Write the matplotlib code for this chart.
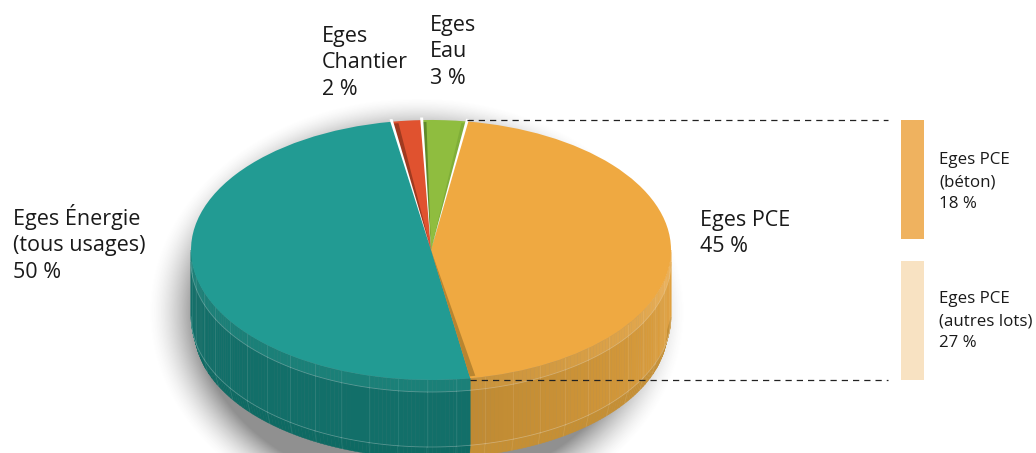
import numpy as np
import matplotlib
matplotlib.use("Agg")
import matplotlib.pyplot as plt
from matplotlib.patches import Wedge, Rectangle, Polygon
from matplotlib.colors import to_rgb

plt.rcParams['font.family'] = ['Open Sans', 'DejaVu Sans']

# data (clockwise from the top)
categories = ["Eges PCE", "Eges Énergie", "Eges Chantier", "Eges Eau"]
shares = [45, 50, 2, 3]
breakdown_labels = ["Eges PCE\n(béton)\n18 %", "Eges PCE\n(autres lots)\n27 %"]
breakdown_values = [18, 27]

top_colors = ["#EFA941", "#229B93", "#E0522F", "#8FBD3F"]
bevel_colors = ["#EFB257", "#1B8078", "#A03A20", "#5F8A2A"]
side_colors = ["#E2A23F", "#126F69", "#A03A20", "#5F8A2A"]
side_dark = ["#BF8A33", "#10726B", "#A03A20", "#5F8A2A"]
bottom_colors = ["#C58F35", "#0E6A63", "#A03A20", "#5F8A2A"]

W, H = 1036, 453
CX, CY, RX, RY = 431, 250, 240, 130
START = 81.4   # matplotlib angle of the first slice start

fig = plt.figure(figsize=(W/100, H/100), dpi=100)
ax = fig.add_axes([0, 0, 1, 1])

def lims():
    ax.set_xlim(-CX/RX, (W-CX)/RX)
    ax.set_ylim((CY-H)/RY, CY/RY)
    ax.set_aspect('auto')
    ax.axis('off')

# slice boundaries from the data
angles = START - np.cumsum([0] + shares) * 3.6

# soft shadow
px = np.arange(W) + .5
py = np.arange(H) + .5
xx, yy = np.meshgrid(px, py)
dist = np.sqrt(((xx-(CX-14))/RX)**2 + ((yy-(CY+62))/(RY+62))**2)
alpha = np.clip((1.12-dist)/0.20, 0, 1)**1.6 * 0.62
img = np.zeros((H, W, 4)); img[..., :3] = 0.3; img[..., 3] = alpha
ax.imshow(img, extent=(-CX/RX, (W-CX)/RX, (CY-H)/RY, CY/RY), origin='upper',
          aspect='auto', zorder=0, interpolation='bilinear')

def band(t0, t1, off0, off1, s0, s1, c, z, lw=0.3):
    t = np.radians(np.linspace(t0, t1, max(3, int(abs(t1-t0)*2)+2)))
    xa, ya = s0*np.cos(t), s0*np.sin(t) - off0/RY
    xb, yb = s1*np.cos(t), s1*np.sin(t) - off1/RY
    ax.add_patch(Polygon(np.r_[np.c_[xa, ya], np.c_[xb, yb][::-1]], closed=True,
                         fc=c, ec=c, lw=lw, zorder=z))

# side of the disc: only front half of each slice is visible
OFF1, OFF2, OFF3 = 12, 67, 80
for i in range(4):
    a1, a0 = angles[i], angles[i+1]
    if a1 > -180 and a0 < 0:
        lo, hi = max(a0, -180), min(a1, 0)
        n = max(2, int(hi-lo))
        edges = np.linspace(lo, hi, n+1)
        for k in range(n):
            f = (0.5*(edges[k]+edges[k+1]) - lo)/(hi-lo)
            mix = 1 - f if i == 0 else 0.0
            sc = np.array(to_rgb(side_colors[i]))*(1-mix) + np.array(to_rgb(side_dark[i]))*mix
            bc = np.array(to_rgb(bevel_colors[i]))*(1-mix*0.8) + np.array(to_rgb(side_dark[i]))*mix*0.8
            band(edges[k], edges[k+1], 0, OFF1, 1, 1, tuple(bc), 2)
            band(edges[k], edges[k+1], OFF1, OFF2, 1, 1, tuple(sc), 2)
            band(edges[k], edges[k+1], OFF2, OFF3, 1, 0.985, bottom_colors[i], 2)
        # thin facet and contour lines
        for a in np.arange(np.ceil(lo/7)*7, hi, 7.0):
            r = np.radians(a)
            for o0, o1, s in ((0, OFF1, 1), (OFF1, OFF2, 1), (OFF2, OFF3, .985)):
                ax.plot([np.cos(r), s*np.cos(r)], [np.sin(r)-o0/RY, s*np.sin(r)-o1/RY],
                        color='white', alpha=.10, lw=.6, zorder=3)
        t = np.radians(np.linspace(lo, hi, 100))
        for o in (OFF1, OFF2):
            ax.plot(np.cos(t), np.sin(t)-o/RY, color='white', alpha=.28, lw=.6, zorder=3)

# top face through the pie function
wedges, _ = ax.pie(shares, colors=top_colors, startangle=START, counterclock=False,
                   radius=1, center=(0, 0), wedgeprops=dict(linewidth=0))
for w in wedges:
    w.set_zorder(5)
lims()

# cut faces of the slices
cuts = [(angles[1], angles[1]+1.4, "#B98530"),
        (angles[2]-1.5, angles[2], "#A03A20"),
        (angles[3]-1.1, angles[3], "#5F8A2A"),
        (angles[4], angles[4]+1.2, "#7FAE38")]
for t0, t1, c in cuts:
    ax.add_patch(Wedge((0, 0), 0.985, t0, t1, fc=c, ec='none', zorder=6))

# narrow gaps between exploded slices, widening to the rim
for a in angles[2:5]:
    ax.add_patch(Wedge((0, 0), 1.02, a-0.35, a+0.35, fc='white', ec='none', zorder=6.5))

# dashed leader lines, from the ends of the PCE slice
lx = (888-CX)/RX
for a in (angles[0], angles[1]):
    r = np.radians(a)
    yv = np.sin(r) + np.sign(np.sin(r))*0.012
    ax.plot([np.cos(r), lx], [yv, yv], color='#222222', lw=.9, dashes=(5, 4), zorder=7)

def X(p): return (p-CX)/RX
def Y(p): return (CY-p)/RY
gap = 22
span = 260 - gap
ytop = 120
colors_break = ["#EFB25F", "#F8E2C2"]
for v, c, offs in zip(breakdown_values, colors_break, (0, 1)):
    h = span/2
    t = ytop + offs*(h+gap)
    ax.add_patch(Rectangle((X(901), Y(t+h)), 23/RX, h/RY, fc=c, ec='none', zorder=4))

def label(x, y, s, size=15.5, ls=1.33):
    ax.text(X(x), Y(y), s, fontsize=size, color='#1a1a1a', va='top', ha='left',
            linespacing=ls, zorder=8)

label(700, 210, f"{categories[0]}\n{shares[0]} %")
label(13, 204, f"Eges Énergie\n(tous usages)\n{shares[1]} %")
label(322, 26, f"Eges\nChantier\n{shares[2]} %")
label(430, 15, f"Eges\nEau\n{shares[3]} %")
label(939, 152, breakdown_labels[0], 12.2, 1.52)
label(939, 291, breakdown_labels[1], 12.2, 1.52)

fig.savefig("out.png", dpi=100)
